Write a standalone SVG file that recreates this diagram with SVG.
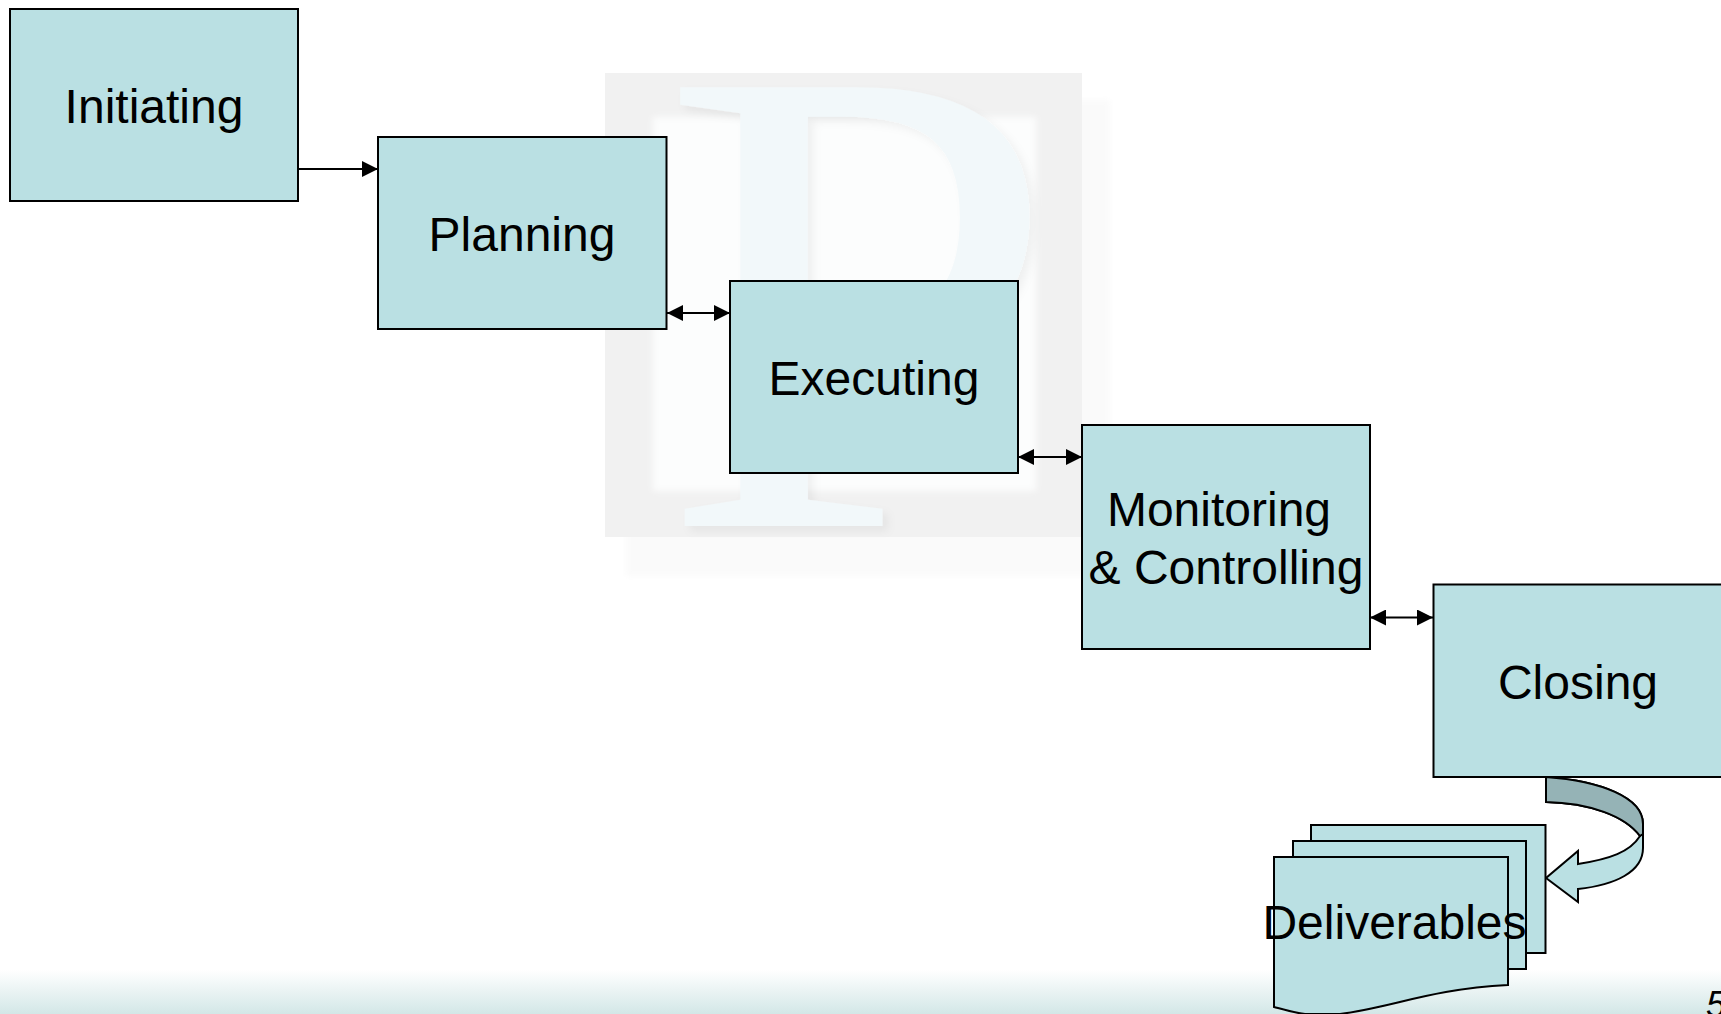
<svg xmlns="http://www.w3.org/2000/svg" width="1721" height="1014" viewBox="0 0 1721 1014">
<style>
.box{fill:#bae0e3;stroke:#000;stroke-width:2}
.lbl{font-family:"Liberation Sans",Arial,sans-serif;font-size:48px;fill:#000;text-anchor:middle}
.con{stroke:#000;stroke-width:2;fill:none}
</style>
<defs>
<marker id="end" markerUnits="userSpaceOnUse" markerWidth="16" markerHeight="16" refX="16" refY="8" orient="auto"><path d="M0 0L16 8L0 16Z" fill="#000"/></marker>
<marker id="start" markerUnits="userSpaceOnUse" markerWidth="16" markerHeight="16" refX="0" refY="8" orient="auto"><path d="M16 0L0 8L16 16Z" fill="#000"/></marker>
<linearGradient id="foot" x1="0" y1="0" x2="0" y2="1"><stop offset="0" stop-color="#fff"/><stop offset="1" stop-color="#d3e7e7"/></linearGradient>
<filter id="soft" x="-10%" y="-10%" width="120%" height="120%"><feGaussianBlur stdDeviation="3"/></filter>
<filter id="pshadow" x="-10%" y="-10%" width="120%" height="120%"><feDropShadow dx="5" dy="5" stdDeviation="4" flood-color="#000" flood-opacity="0.05"/></filter>
</defs>
<rect width="1721" height="1014" fill="#fff"/>
<g id="watermark">
<rect x="626" y="100" width="484" height="476" fill="#fafafa" filter="url(#soft)"/>
<rect x="605" y="73" width="477" height="464" fill="#f1f1f1"/>
<rect x="653" y="117" width="383" height="374" fill="#fcfdfd" filter="url(#soft)"/>
<text transform="translate(659.500 526) scale(1.07 1)" font-family="'Liberation Serif',serif" font-size="670" fill="#f2f8fa" filter="url(#pshadow)">P</text>
</g>
<rect id="footer" x="0" y="970" width="1721" height="44" fill="url(#foot)"/>
<g id="connectors">
<path class="con" d="M298 169H378" marker-end="url(#end)"/>
<path class="con" d="M667 313H730" marker-start="url(#start)" marker-end="url(#end)"/>
<path class="con" d="M1018 457H1082" marker-start="url(#start)" marker-end="url(#end)"/>
<path class="con" d="M1370 617.500H1433" marker-start="url(#start)" marker-end="url(#end)"/>
</g>
<g id="initiating"><rect class="box" x="10" y="9" width="288" height="192"/><text class="lbl" x="154" y="123">Initiating</text></g>
<g id="planning"><rect class="box" x="378" y="137" width="288.500" height="192"/><text class="lbl" x="522" y="251">Planning</text></g>
<g id="executing"><rect class="box" x="730" y="281" width="288" height="192"/><text class="lbl" x="874" y="395">Executing</text></g>
<g id="monitoring"><rect class="box" x="1082" y="425" width="288" height="224"/><text class="lbl" x="1219" y="526">Monitoring</text><text class="lbl" x="1226" y="584">&amp; Controlling</text></g>
<g id="closing"><rect class="box" x="1433.500" y="584.500" width="289" height="192.500"/><text class="lbl" x="1578" y="699">Closing</text></g>
<g id="curved-arrow">
<path d="M1546 777C1600 781 1643 797 1643 824V848C1643 872 1615 885 1578 889V902L1546 878L1578 851V864C1610 859 1630 852 1640 836C1625 816 1590 803 1546 802Z" fill="#bae0e3" stroke="#000" stroke-width="2"/>
<path d="M1546 777C1600 781 1643 797 1643 824V834L1640 836C1625 816 1590 803 1546 802Z" fill="#95b3b6" stroke="#000" stroke-width="2"/>
</g>
<g id="deliverables">
<rect class="box" x="1311" y="825" width="234.500" height="128"/>
<rect class="box" x="1293" y="841" width="233" height="128"/>
<path class="box" d="M1274 857H1508V985C1430 989 1390 1008 1340 1014H1305C1295 1013 1285 1010 1274 1007Z"/>
<text class="lbl" x="1394.500" y="939">Deliverables</text>
</g>
<text id="page-number" x="1706" y="1017" font-family="'Liberation Sans',Arial,sans-serif" font-style="italic" font-size="36">5</text>
</svg>
